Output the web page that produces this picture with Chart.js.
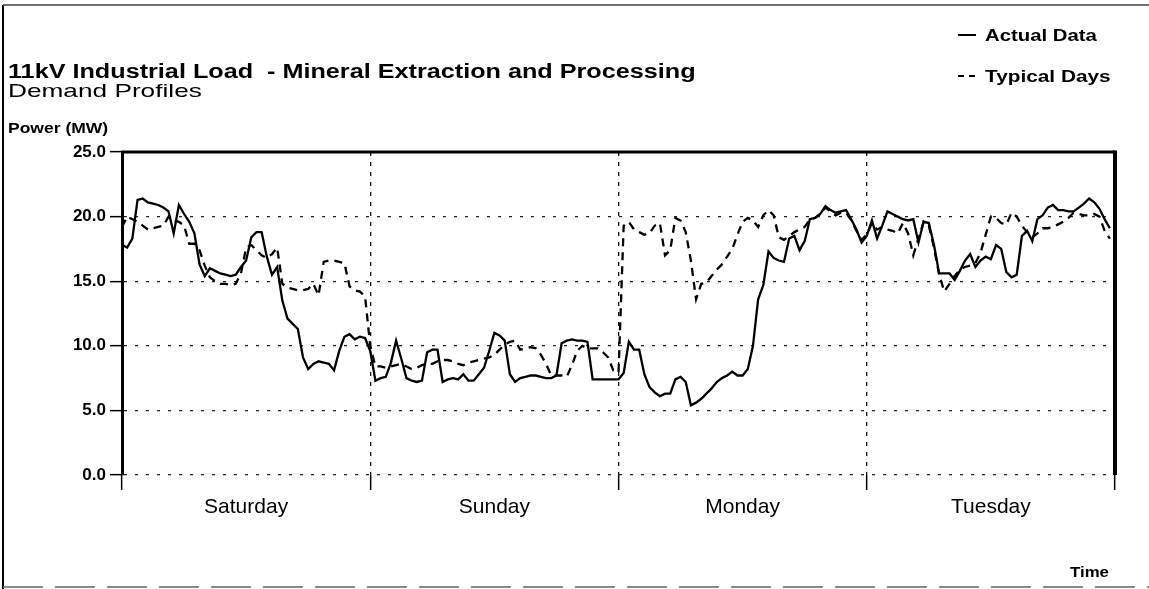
<!DOCTYPE html>
<html>
<head>
<meta charset="utf-8">
<script src="https://cdn.jsdelivr.net/npm/chart.js@4.4.1/dist/chart.umd.min.js"></script>
<style>
  html, body { margin: 0; padding: 0; background: #fff; }
  #wrap { width: 1149px; height: 589px; }
</style>
</head>
<body>
<div id="wrap"><canvas id="grafica" width="1149" height="589"></canvas></div>
<script>
// Datos (MW, cada media hora)
const dias = ['Saturday', 'Sunday', 'Monday', 'Tuesday'];

const actualSat = [17.8, 17.6, 18.3, 21.3, 21.4, 21.1, 21.0, 20.9, 20.7, 20.4, 18.7, 20.9, 20.2, 19.6, 18.7, 16.3,
  15.4, 16.0, 15.8, 15.6, 15.5, 15.4, 15.5, 16.1, 16.6, 18.4, 18.8, 18.8, 16.9, 15.5, 16.1, 13.5,
  12.1, 11.7, 11.3, 9.1, 8.2, 8.6, 8.8, 8.7, 8.6, 8.1, 9.6, 10.7, 10.9, 10.5, 10.7, 10.6];
const actualSun = [9.6, 7.3, 7.5, 7.6, 8.7, 10.4, 9.0, 7.5, 7.3, 7.2, 7.3, 9.5, 9.7, 9.7, 7.2, 7.4,
  7.5, 7.4, 7.8, 7.3, 7.3, 7.8, 8.3, 9.6, 11.0, 10.8, 10.4, 7.8, 7.2, 7.5, 7.6, 7.7,
  7.7, 7.6, 7.5, 7.5, 7.7, 10.2, 10.4, 10.5, 10.4, 10.4, 10.3, 7.4, 7.4, 7.4, 7.4, 7.4];
const actualMon = [7.4, 7.9, 10.3, 9.7, 9.7, 7.8, 6.8, 6.4, 6.1, 6.3, 6.3, 7.4, 7.6, 7.2, 5.4, 5.6,
  5.9, 6.3, 6.7, 7.2, 7.5, 7.7, 8.0, 7.7, 7.7, 8.2, 10.0, 13.6, 14.7, 17.3, 16.8, 16.6,
  16.5, 18.3, 18.5, 17.4, 18.1, 19.8, 19.9, 20.2, 20.8, 20.5, 20.3, 20.4, 20.5, 19.8, 19.0, 18.0];
const actualTue = [18.5, 19.7, 18.3, 19.3, 20.4, 20.2, 20.0, 19.8, 19.7, 19.8, 18.0, 19.6, 19.5, 17.8, 15.6, 15.6,
  15.6, 15.1, 15.8, 16.6, 17.1, 16.1, 16.6, 16.9, 16.7, 17.8, 17.5, 15.7, 15.3, 15.5, 18.5, 18.9,
  18.1, 19.8, 20.1, 20.7, 20.9, 20.5, 20.5, 20.4, 20.4, 20.7, 21.0, 21.4, 21.1, 20.6, 19.8, 19.1];

const typicalSat = [19.2, 20.0, 19.8, 19.6, 19.3, 19.0, 19.1, 19.2, 19.3, 20.0, 19.7, 19.6, 19.3, 17.9, 17.9, 17.4,
  16.2, 15.3, 15.0, 14.8, 14.8, 14.7, 14.8, 15.6, 17.6, 17.8, 17.4, 17.0, 16.8, 17.1, 17.6, 14.8,
  14.5, 14.4, 14.3, 14.3, 14.4, 14.8, 13.9, 16.5, 16.6, 16.6, 16.5, 16.4, 14.6, 14.3, 14.2, 13.8];
const typicalSun = [10.0, 8.4, 8.4, 8.3, 8.4, 8.5, 8.6, 8.4, 8.2, 8.3, 8.5, 8.6, 8.6, 8.8, 8.9, 8.9,
  8.8, 8.6, 8.5, 8.7, 8.8, 8.9, 9.0, 9.1, 9.3, 9.7, 10.1, 10.3, 10.4, 9.7, 9.8, 9.9,
  9.8, 9.3, 8.6, 7.7, 7.7, 7.7, 7.6, 8.5, 9.6, 10.0, 9.8, 9.8, 9.8, 9.5, 9.1, 8.1];
const typicalMon = [7.9, 19.3, 19.6, 19.0, 18.8, 18.6, 18.7, 19.3, 19.5, 17.0, 17.4, 19.9, 19.7, 18.8, 16.6, 13.6,
  14.8, 14.9, 15.4, 15.9, 16.3, 16.9, 17.5, 18.6, 19.6, 19.9, 19.7, 19.2, 20.1, 20.5, 20.1, 18.4,
  18.2, 18.5, 18.8, 19.0, 19.2, 19.8, 19.9, 20.2, 20.7, 20.4, 20.1, 20.3, 20.3, 19.7, 18.9, 18.2];
const typicalTue = [18.6, 19.5, 19.0, 19.2, 19.0, 18.9, 18.7, 19.5, 18.7, 17.0, 18.3, 19.6, 19.3, 17.6, 15.5, 14.2,
  14.8, 15.4, 15.9, 16.1, 16.2, 16.4, 17.2, 18.6, 20.0, 19.9, 19.5, 19.4, 20.3, 20.0, 19.3, 18.8,
  18.4, 18.7, 19.1, 19.1, 19.2, 19.4, 19.6, 19.9, 20.3, 20.2, 20.1, 20.1, 20.2, 20.0, 18.9, 18.3];

const ejeY = { min: 0, max: 25, paso: 5 };
const horasDia = 24;

const actual = [...actualSat, ...actualSun, ...actualMon, ...actualTue];
const typical = [...typicalSat, ...typicalSun, ...typicalMon, ...typicalTue];
const aPuntos = serie => serie.map((v, i) => ({ x: i / 2, y: v }));

// Texto estirado a lo ancho, como en el original
function texto(ctx, str, x, y, font, sx) {
  ctx.save();
  ctx.font = font;
  ctx.translate(x, y);
  ctx.scale(sx, 1);
  ctx.fillText(str, 0, 0);
  ctx.restore();
}

const decor = {
  id: 'decor',
  afterDraw(chart) {
    const { ctx, chartArea: a } = chart;
    ctx.save();
    ctx.strokeStyle = '#000';
    // marco del grafico
    ctx.lineWidth = 3;
    ctx.beginPath();
    ctx.moveTo(a.left - 1, a.top);
    ctx.lineTo(a.right, a.top);
    ctx.stroke();
    ctx.lineWidth = 4;
    ctx.beginPath();
    ctx.moveTo(a.right, a.top - 1.5);
    ctx.lineTo(a.right, a.bottom);
    ctx.stroke();
    // marco de la pagina
    ctx.lineWidth = 2;
    ctx.beginPath();
    ctx.moveTo(3, 5);
    ctx.lineTo(3, 589);
    ctx.stroke();
    ctx.strokeStyle = '#444';
    ctx.lineWidth = 1.5;
    ctx.beginPath();
    ctx.moveTo(3, 5);
    ctx.lineTo(1149, 5);
    ctx.stroke();
    ctx.strokeStyle = '#666';
    ctx.setLineDash([40, 12]);
    ctx.beginPath();
    ctx.moveTo(3, 587);
    ctx.lineTo(1149, 587);
    ctx.stroke();
    ctx.setLineDash([]);

    // textos
    ctx.fillStyle = '#000';
    ctx.textBaseline = 'alphabetic';
    texto(ctx, '11kV Industrial Load  - Mineral Extraction and Processing', 8, 78, 'bold 20px "Liberation Sans", Arial, sans-serif', 1.26);
    texto(ctx, 'Demand Profiles', 8, 97, '19px "Liberation Sans", Arial, sans-serif', 1.38);
    texto(ctx, 'Power (MW)', 8, 133, 'bold 14px "Liberation Sans", Arial, sans-serif', 1.25);
    texto(ctx, 'Time', 1070, 577, 'bold 14px "Liberation Sans", Arial, sans-serif', 1.2);

    // leyenda
    ctx.strokeStyle = '#000';
    ctx.lineWidth = 2;
    ctx.beginPath();
    ctx.moveTo(958, 35);
    ctx.lineTo(976, 35);
    ctx.stroke();
    ctx.beginPath();
    ctx.moveTo(958, 76);
    ctx.lineTo(964, 76);
    ctx.moveTo(969, 76);
    ctx.lineTo(975, 76);
    ctx.stroke();
    texto(ctx, 'Actual Data', 985, 41, 'bold 16px "Liberation Sans", Arial, sans-serif', 1.27);
    texto(ctx, 'Typical Days', 985, 82, 'bold 16px "Liberation Sans", Arial, sans-serif', 1.3);
    ctx.restore();
  }
};

const grafica = document.getElementById('grafica');

new Chart(grafica, {
  type: 'line',
  data: {
    datasets: [{
      label: 'Actual Data',
      data: aPuntos(actual),
      borderColor: '#000',
      borderWidth: 2.3,
      pointRadius: 0,
      tension: 0
    }, {
      label: 'Typical Days',
      data: aPuntos(typical),
      borderColor: '#000',
      borderWidth: 2.3,
      borderDash: [8, 6],
      pointRadius: 0,
      tension: 0
    }]
  },
  options: {
    responsive: false,
    animation: false,
    events: [],
    layout: { padding: { top: 152, right: 34, bottom: 0, left: 0 } },
    plugins: { legend: { display: false }, title: { display: false }, tooltip: { enabled: false } },
    scales: {
      x: {
        type: 'linear',
        min: 0,
        max: horasDia * dias.length,
        afterFit: s => { s.height = 114; },
        ticks: {
          stepSize: horasDia / 2,
          autoSkip: false,
          maxRotation: 0,
          padding: 5,
          color: '#000',
          font: { family: '"Liberation Sans", Arial, sans-serif', size: 21 },
          callback: v => (v % horasDia === horasDia / 2 ? dias[(v - horasDia / 2) / horasDia] : '')
        },
        grid: {
          color: c => (c.tick && c.tick.value % horasDia === 0 ? '#111' : 'rgba(0,0,0,0)'),
          tickColor: c => (c.tick && c.tick.value % horasDia === 0 ? '#000' : 'rgba(0,0,0,0)'),
          lineWidth: 1.3,
          tickLength: 15,
          tickWidth: 1.5,
          tickBorderDash: []
        },
        border: { display: false, dash: [4, 6] }
      },
      y: {
        min: ejeY.min,
        max: ejeY.max,
        afterFit: s => { s.width = 122; },
        ticks: {
          stepSize: ejeY.paso,
          padding: 4,
          color: '#000',
          font: { family: '"Liberation Sans", Arial, sans-serif', size: 17, weight: 'bold' },
          callback: v => v.toFixed(1)
        },
        grid: {
          color: '#222',
          lineWidth: 1.3,
          tickLength: 12,
          tickColor: '#000',
          tickWidth: 1.5,
          tickBorderDash: []
        },
        border: { display: true, color: '#000', width: 3, dash: [3, 8] }
      }
    }
  },
  plugins: [decor]
});
</script>
</body>
</html>
